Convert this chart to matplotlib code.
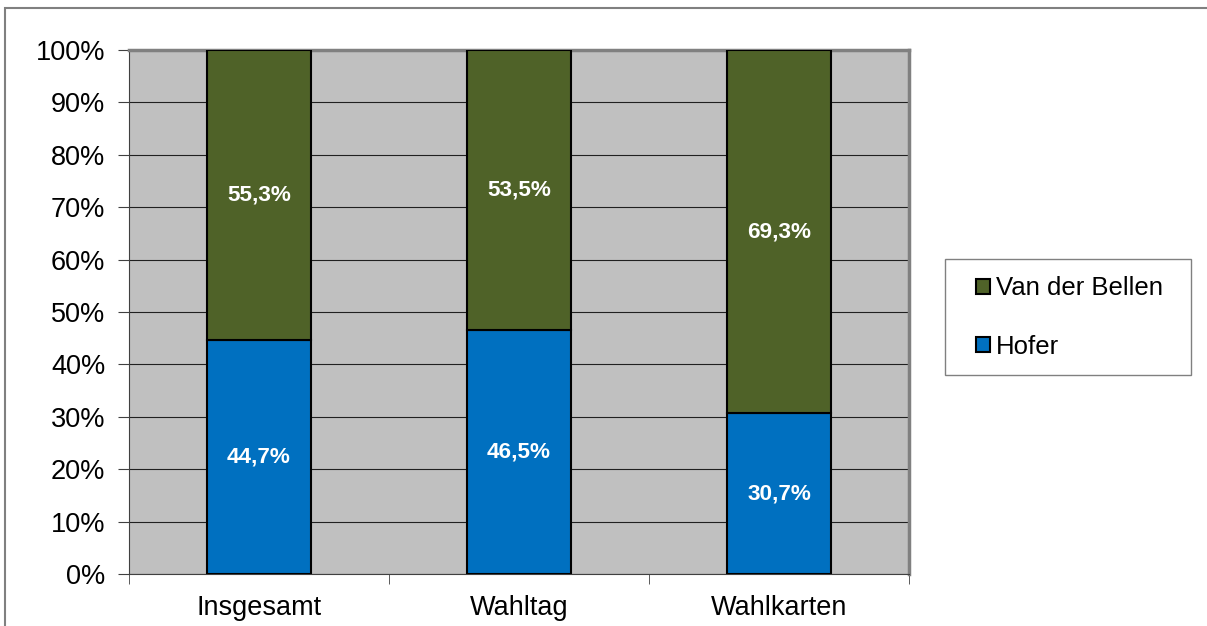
import matplotlib.pyplot as plt
from matplotlib.patches import Rectangle
from matplotlib.ticker import PercentFormatter

# Daten
kategorien = ["Insgesamt", "Wahltag", "Wahlkarten"]
hofer = [44.7, 46.5, 30.7]
van_der_bellen = [55.3, 53.5, 69.3]

plt.rcParams['font.family'] = ['Liberation Sans', 'DejaVu Sans']

W, H = 1207, 626
fig = plt.figure(figsize=(W / 100, H / 100), dpi=100)
ax = fig.add_axes([129 / W, 1 - 574 / H, 780 / W, 524 / H])

# äußerer Rahmen (nur links/oben sichtbar)
fig.patches.append(Rectangle((5 / W, -0.1), 1.2, 1 - 8 / H + 0.1,
                             transform=fig.transFigure, fill=False,
                             edgecolor='#808080', linewidth=1.5))

x = range(len(kategorien))
b1 = ax.bar(x, hofer, width=0.4, color='#0070C0', edgecolor='black',
            linewidth=1.5, label='Hofer', zorder=3)
b2 = ax.bar(x, van_der_bellen, width=0.4, bottom=hofer, color='#4F6228',
            edgecolor='black', linewidth=1.5, label='Van der Bellen', zorder=3)

ax.bar_label(b1, labels=[f"{v:.1f}%".replace('.', ',') for v in hofer],
             label_type='center', color='white', fontweight='bold', fontsize=16.2)
ax.bar_label(b2, labels=[f"{v:.1f}%".replace('.', ',') for v in van_der_bellen],
             label_type='center', color='white', fontweight='bold', fontsize=16.2)

ax.set_facecolor('#C0C0C0')
ax.set_xlim(-0.5, 2.5)
ax.set_ylim(0, 100)
ax.set_yticks(range(0, 101, 10))
ax.yaxis.set_major_formatter(PercentFormatter(decimals=0))
ax.grid(axis='y', color='#202020', linewidth=0.8, zorder=0)
ax.set_axisbelow(True)

ax.set_xticks(list(x))
ax.set_xticklabels(kategorien)
ax.set_xticks([-0.5, 0.5, 1.5, 2.5], minor=True)
ax.tick_params(axis='x', which='major', length=0, pad=15, labelsize=19.5)
ax.tick_params(axis='x', which='minor', length=7, color='#404040')
ax.tick_params(axis='y', length=8, color='#404040', labelsize=19.5, pad=9)

for s in ['left', 'bottom']:
    ax.spines[s].set_color('#404040')
for s in ['top', 'right']:
    ax.spines[s].set_color('#808080')
    ax.spines[s].set_linewidth(2.5)

# Legendenrahmen
fig.patches.append(Rectangle((945 / W, 1 - 375 / H), 246 / W, 116 / H,
                             transform=fig.transFigure, facecolor='white',
                             edgecolor='#808080', linewidth=1.0))
handles, labels = ax.get_legend_handles_labels()
leg = fig.legend(handles[::-1], labels[::-1], loc='center left',
                 bbox_to_anchor=(976 / W, 1 - 317.5 / H), fontsize=18.5,
                 frameon=False, handlelength=0.55, handleheight=0.55,
                 handletextpad=0.23, labelspacing=1.33, borderpad=0,
                 borderaxespad=0)

fig.savefig('out.png', dpi=100)
